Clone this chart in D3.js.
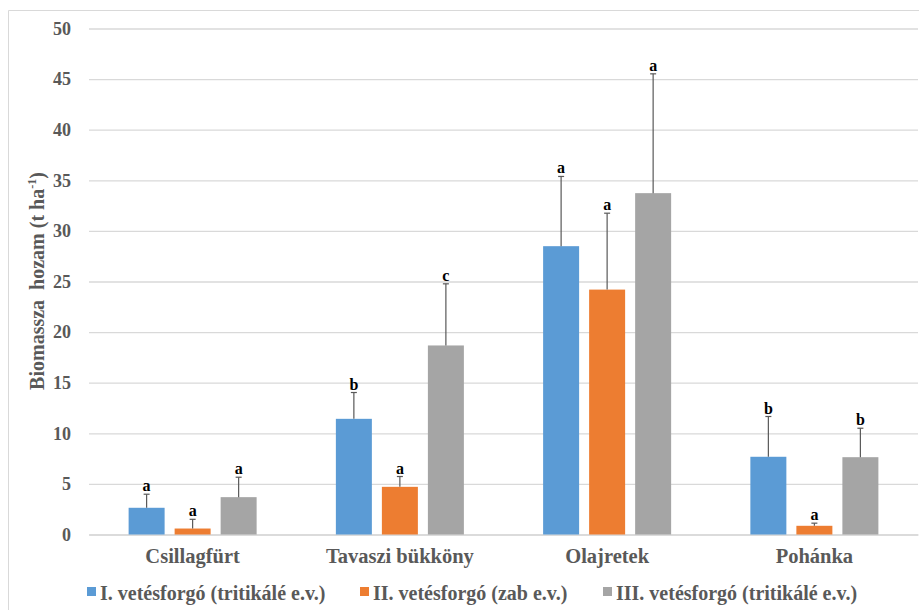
<!DOCTYPE html>
<html><head><meta charset="utf-8">
<script src="https://cdn.jsdelivr.net/npm/d3@7"></script>
<style>body{margin:0;background:#fff}svg{display:block}svg text{font-family:"Liberation Serif","Times New Roman","DejaVu Serif",serif !important;}</style>
</head><body>
<script>
const categories = ["Csillagfürt", "Tavaszi bükköny", "Olajretek", "Pohánka"];
const seriesNames = ["I. vetésforgó (tritikálé e.v.)", "II. vetésforgó (zab e.v.)", "III. vetésforgó (tritikálé e.v.)"];
const seriesI = [2.64, 11.43, 28.49, 7.68];
const seriesII = [0.59, 4.71, 24.2, 0.86];
const seriesIII = [3.69, 18.68, 33.73, 7.64];
const errI = [1.34, 2.6, 6.89, 3.98];
const errII = [0.91, 1.02, 7.55, 0.26];
const errIII = [1.97, 6.09, 11.79, 2.86];
const lettersI = ["a", "b", "a", "b"];
const lettersII = ["a", "a", "a", "a"];
const lettersIII = ["a", "c", "a", "b"];
const yTicks = [0, 5, 10, 15, 20, 25, 30, 35, 40, 45, 50];
const colors = ["#5B9BD5", "#ED7D31", "#A5A5A5"];

const W = 919, H = 610;
const svg = d3.select("body").append("svg").attr("width", W).attr("height", H);
const txt = "#595959";

// outer border (cropped)
svg.append("line").attr("x1", 8.5).attr("x2", W).attr("y1", 10.5).attr("y2", 10.5).attr("stroke", "#d9d9d9");
svg.append("line").attr("x1", 8.5).attr("x2", 8.5).attr("y1", 10.5).attr("y2", H).attr("stroke", "#d9d9d9");

const x0 = 89, x1 = 918, yTop = 28.5, yBot = 534.5;
const y = d3.scaleLinear().domain([0, 50]).range([yBot, yTop]);
const x = d3.scaleBand().domain(categories).range([x0, x1]);
const bw = x.bandwidth() * 0.1737, step = x.bandwidth() * 0.222;

// gridlines
const yAxis = d3.axisLeft(y).tickValues(yTicks).tickSize(-(x1 - x0)).tickPadding(18).tickFormat(d3.format("d"));
const gy = svg.append("g").attr("transform", `translate(${x0},0)`).call(yAxis);
gy.select(".domain").remove();
gy.selectAll(".tick line").attr("stroke", "#d9d9d9").attr("stroke-width", 1.3);
gy.selectAll(".tick text").attr("fill", txt).attr("font-weight", "bold").attr("font-size", 18);

// x axis
const xAxis = d3.axisBottom(x).tickSize(0).tickPadding(14);
const gx = svg.append("g").attr("transform", `translate(0,${yBot})`).call(xAxis);
gx.select(".domain").attr("stroke", "#d9d9d9").attr("stroke-width", 1.3);
gx.selectAll(".tick text").attr("fill", txt).attr("font-weight", "bold").attr("font-size", 20.5);

const series = [
  {vals: seriesI, err: errI, let: lettersI},
  {vals: seriesII, err: errII, let: lettersII},
  {vals: seriesIII, err: errIII, let: lettersIII}
];
series.forEach((s, si) => {
  const g = svg.append("g");
  categories.forEach((c, ci) => {
    const cx = x(c) + x.bandwidth() / 2 + (si - 1) * step;
    const v = s.vals[ci], top = v + s.err[ci];
    g.append("rect").attr("x", cx - bw / 2).attr("width", bw)
      .attr("y", y(v)).attr("height", y(0) - y(v)).attr("fill", colors[si]);
    g.append("line").attr("x1", cx).attr("x2", cx).attr("y1", y(v)).attr("y2", y(top))
      .attr("stroke", "#595959").attr("stroke-width", 1.2);
    g.append("line").attr("x1", cx - 3).attr("x2", cx + 3).attr("y1", y(top)).attr("y2", y(top))
      .attr("stroke", "#595959").attr("stroke-width", 1.2);
    g.append("text").attr("x", cx).attr("y", y(top) - 3).attr("text-anchor", "middle")
      .attr("font-weight", "bold").attr("font-size", 16).attr("fill", "#000")
      .text(s.let[ci]);
  });
});

// y title
const yt = svg.append("text").attr("transform", "translate(44,281) rotate(-90)").attr("text-anchor", "middle")
  .attr("font-weight", "bold").attr("font-size", 20).attr("fill", txt);
yt.append("tspan").text("Biomassza\u00a0 hozam (t ha");
yt.append("tspan").attr("font-size", 12).attr("dy", -8).text("-1");
yt.append("tspan").attr("dy", 8).text(")");

// legend
const legX = [87, 360, 603];
seriesNames.forEach((n, i) => {
  svg.append("rect").attr("x", legX[i]).attr("y", 587).attr("width", 9).attr("height", 9).attr("fill", colors[i]);
  svg.append("text").attr("x", legX[i] + 13).attr("y", 600)
    .attr("font-weight", "bold").attr("font-size", 20).attr("fill", txt).text(n);
});
</script>
</body></html>
